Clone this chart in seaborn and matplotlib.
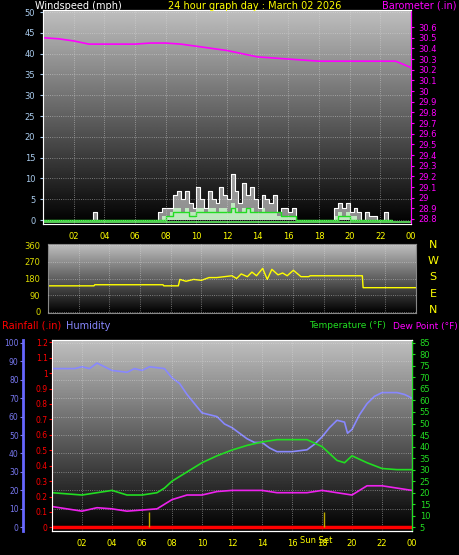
import numpy as np
import matplotlib
matplotlib.use("Agg")
import matplotlib.pyplot as plt
import seaborn as sns

sns.set_style("dark")
plt.rcParams["font.family"] = ["DejaVu Sans"]

# wind, quarter-hourly from 00:00
gust = [0]*13 + [2] + [0]*16 + [2,3,3,3,6,7,5,7,4,3,8,5,3,7,5,4,8,6,5,11,7,4,9,6,8,5,3,6,5,4,6,2,3,3,2,3,0,0,0,0,0,0,0,0,0,0,3,4,3,4,2,3,2,0,2,1,1,0,0,2,0,0]
avg = [0]*30 + [0,1,1,2,3,3,2,3,2,2,3,3,2,3,3,2,3,3,2,4,3,2,3,3,3,2,2,3,2,2,2,1,1,1,1,1,0,0,0,0,0,0,0,0,0,0,1,2,1,2,1,1,0,0,0,0,0,0,0,0,0,0]
avg_line = [0]*30 + [0,0,1,1,2,2,2,2,1,1,2,2,2,2,2,2,2,2,2,3,2,2,2,3,2,2,2,2,2,2,2,2,1,1,1,1,0,0,0,0,0,0,0,0,0,0,0,1,1,1,0,0,0,0,0,0,0,0,0,0,0,0]
baro_h = [0,1,2,3,4,5,6,7,8,9,10,11,12,13,14,15,16,17,18,19,20,21,22,23,24]
baro = [30.50,30.49,30.47,30.44,30.44,30.44,30.44,30.45,30.45,30.44,30.42,30.40,30.38,30.35,30.32,30.31,30.30,30.29,30.28,30.28,30.28,30.28,30.28,30.28,30.22]
# wind direction
dir_h = [0,3,3.05,7.5,7.55,8.5,8.6,9,9.5,10,10.5,11,12,12.3,12.6,13,13.3,13.6,14,14.3,14.6,15,15.3,15.6,16,16.5,17,17.1,20.5,20.55,24]
wdir = [140,140,146,146,140,140,175,165,175,170,185,185,195,180,205,190,215,195,235,175,230,200,210,195,225,190,190,195,195,130,130]
# humidity / temperature / dew point
hum_h = [0,1.5,2,2.5,3,3.5,4,5,5.5,6,6.5,7.5,8,8.5,9,9.5,10,11,11.5,12,13,13.5,14,14.5,15,16,17,17.5,18,18.5,19,19.5,19.7,20,20.5,21,21.5,22,23,23.5,24]
hum = [86,86,87,86,89,87,85,84,86,85,87,86,81,78,72,67,62,60,56,54,48,46,46,43,41,41,42,45,49,54,58,57,51,53,61,67,71,73,73,72,70]
temp_h = [0,2,3,4,5,6,7,7.5,8,9,10,11,12,13,14,15,16,17,18,19,19.5,20,21,22,23,24]
temp = [20,19,20,21,19,19,20,22,25,29,33,36,38.5,40.5,42,43,43,43,40,34,33,36,33,30.5,30,30]
dew_h = [0,2,3,4,5,6,7,8,9,10,11,12,14,15,17,18,19,20,21,22,24]
dew = [14,12,13.5,13,12,12.5,13,17,19,19,20.5,21,21,20,20,21,20,19,23,23,21]
rain_h = [0,24]
rain = [0,0]
sun_marks = [6.45, 18.1]
xticks = [2,4,6,8,10,12,14,16,18,20,22,24]
xlabels = ["02","04","06","08","10","12","14","16","18","20","22","00"]

W, H = 459, 555
fig = plt.figure(figsize=(W/100, H/100), dpi=100, facecolor="black")

def box(l, t, r, b):
    return [l/W, 1-b/H, (r-l)/W, (b-t)/H]

grad = np.linspace(0.75, 0.0, 256).reshape(-1, 1)

def style(ax, ylo, yhi):
    ax.set_facecolor("black")
    ax.imshow(grad, cmap="gray", vmin=0, vmax=1, aspect="auto",
              extent=[0, 24, ylo, yhi], zorder=0)
    ax.set_xlim(0, 24)
    ax.set_ylim(ylo, yhi)
    ax.grid(True, color="#dddddd", linestyle=":", linewidth=0.6, alpha=0.6)
    ax.set_axisbelow(False)
    for s in ax.spines.values():
        s.set_color("#888888")
    ax.tick_params(labelsize=6, length=2, colors="white")
    ax.set_xticks(xticks)
    ax.set_xticklabels(xlabels, color="yellow")

# top panel
ax1 = fig.add_axes(box(43, 10, 411, 224))
style(ax1, -0.96, 50.5)
x = np.arange(len(gust)) * 0.25
ax1.fill_between(x, 0, gust, step="post", color="white", alpha=0.55, lw=0)
ax1.step(x, gust, where="post", color="white", lw=0.8)
ax1.fill_between(x, 0, avg, step="post", color="#ccffcc", alpha=0.8, lw=0)
ax1.step(x, avg_line, where="post", color="#22dd22", lw=1)
ax1.axhline(-0.5, color="#66ee66", lw=1.2)
ax1.set_yticks(range(0, 51, 5))
ax1.tick_params(axis="y", colors="#aaccee")
ax1b = ax1.twinx()
ax1b.set_ylim(28.753, 30.76)
sns.lineplot(x=baro_h, y=baro, ax=ax1b, color="magenta", lw=1.2)
bt = np.round(np.arange(28.8, 30.61, 0.1), 1)
ax1b.set_yticks(bt)
ax1b.set_yticklabels([f"{v:g}" for v in bt])
ax1b.tick_params(labelsize=6, length=2, colors="magenta")
ax1b.spines["right"].set_color("magenta")
fig.text(35/W, 1-6/H, "Windspeed (mph)", color="white", fontsize=7, va="center")
fig.text(255/W, 1-6/H, "24 hour graph day : March 02 2026", color="yellow", fontsize=7, va="center", ha="center")
fig.text(457/W, 1-6/H, "Barometer (.in)", color="magenta", fontsize=7, va="center", ha="right")

# direction panel
ax2 = fig.add_axes(box(48, 244, 416, 313))
style(ax2, -8, 368)
sns.lineplot(x=dir_h, y=wdir, ax=ax2, color="yellow", lw=1)
ax2.set_yticks([0, 90, 180, 270, 360])
ax2.tick_params(axis="y", colors="#dddd00")
ax2.set_xticklabels([])
ax2.set_xlabel("")
ax2.set_ylabel("")
for i, lab in enumerate(["N", "W", "S", "E", "N"]):
    fig.text(433/W, 1-(245+i*16.2)/H, lab, color="yellow", fontsize=8, ha="center", va="center")

# bottom panel
ax3 = fig.add_axes(box(52, 340, 412, 531))
style(ax3, -2, 101.5)
sns.lineplot(x=hum_h, y=hum, ax=ax3, color="#8888ff", lw=1.2)
ax3.set_yticks(range(0, 101, 10))
ax3.tick_params(axis="y", colors="#7777ee", labelsize=5.5, pad=1)
ax3.spines["left"].set_position(("outward", 21))
ax3.spines["left"].set_color("#6666ff")
ax3.spines["left"].set_linewidth(2)
ax3.set_ylabel("")
ax3r = ax3.twinx()
ax3r.yaxis.set_ticks_position("left")
ax3r.spines["left"].set_visible(True)
ax3r.spines["left"].set_color("red")
ax3r.spines["left"].set_linestyle("--")
ax3r.set_ylim(-0.02 * 1.18, 1.215)
ax3r.plot(rain_h, rain, color="red", lw=2.5)
ax3r.vlines(sun_marks, 0, 0.1, color="#bbaa00", lw=1)
rt = np.round(np.arange(0, 1.21, 0.1), 1)
ax3r.set_yticks(rt)
ax3r.set_yticklabels([f"{v:g}" for v in rt])
ax3r.tick_params(labelsize=5.5, length=2, pad=1, colors="red")
ax3t = ax3.twinx()
ax3t.set_ylim(5 - 0.8 * 2, 5 + 0.8 * 101.5)
sns.lineplot(x=temp_h, y=temp, ax=ax3t, color="#22dd22", lw=1.2)
sns.lineplot(x=dew_h, y=dew, ax=ax3t, color="#ee22ee", lw=1.2)
ax3t.set_yticks(range(5, 86, 5))
ax3t.tick_params(labelsize=6, length=2, colors="#22dd22")
ax3t.spines["right"].set_color("#22dd22")
ax3t.set_ylabel("")
ax3.text(17.6, -4.5, "Sun Set", color="yellow", fontsize=6, ha="center", va="top")
fig.text(2/W, 1-326/H, "Rainfall (.in)", color="red", fontsize=7, va="center")
fig.text(66/W, 1-326/H, "Humidity", color="#8888ff", fontsize=7, va="center")
fig.text(386/W, 1-326/H, "Temperature (°F)", color="#22dd22", fontsize=6.5, va="center", ha="right")
fig.text(458/W, 1-326/H, "Dew Point (°F)", color="magenta", fontsize=6.5, va="center", ha="right")

fig.savefig("out.png", dpi=100, facecolor="black")
